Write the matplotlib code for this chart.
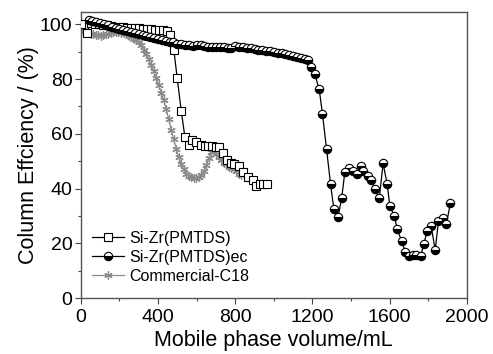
import matplotlib
matplotlib.use("Agg")
import matplotlib.pyplot as plt
from matplotlib.ticker import MultipleLocator

plt.rcParams['font.family'] = ['Liberation Sans', 'DejaVu Sans']

# Si-Zr(PMTDS)
sq_x = [0, 31, 52, 72, 93, 114, 135, 155, 176, 197, 218, 238, 259, 280, 300, 321, 342, 362,
        383, 404, 424, 445, 460, 482, 499, 520, 539, 558, 578, 599, 620, 641, 658, 680, 700,
        717, 734, 755, 776, 796, 817, 841, 865, 890, 907, 927, 945, 965]
sq_y = [100, 97, 100.5, 100.2, 100, 99.8, 99.6, 99.4, 99.2, 99.0, 98.9, 98.8, 98.7, 98.6, 98.5,
        98.4, 98.3, 98.2, 98.1, 98.0, 97.8, 97.4, 96.2, 90.5, 80.5, 68.4, 58.9, 56.0, 57.7,
        57.2, 56.0, 55.5, 55.5, 55.5, 55.3, 55.2, 53.0, 50.6, 49.4, 48.9, 48.4, 46.2, 44.3,
        43.0, 41.1, 41.8, 41.6, 41.6]

# Si-Zr(PMTDS)ec
ec_x = [40, 60, 80, 100, 120, 140, 160, 180, 200, 220, 240, 260, 280, 300, 320, 340, 360, 380,
        400, 420, 440, 460, 480, 500, 520, 540, 560, 580, 600, 620, 640, 660, 680, 700, 720,
        740, 760, 780, 800, 820, 840, 860, 880, 900, 920, 940, 960, 980, 1000, 1020, 1040,
        1060, 1080, 1100, 1120, 1140, 1160, 1178, 1195, 1212, 1235, 1252, 1273, 1294, 1311,
        1333, 1351, 1368, 1390, 1411, 1432, 1449, 1463, 1487, 1504, 1525, 1546, 1566, 1587,
        1601, 1625, 1639, 1663, 1680, 1698, 1719, 1739, 1760, 1777, 1794, 1815, 1836, 1853,
        1874, 1894, 1915]
ec_y = [101.5, 101.2, 100.8, 100.4, 100.0, 99.6, 99.2, 98.8, 98.4, 98.0, 97.6, 97.2, 96.8, 96.4,
        96.0, 95.7, 95.4, 95.0, 94.7, 94.4, 94.0, 93.7, 93.4, 93.0, 92.7, 92.5, 92.3, 92.2,
        92.3, 92.4, 92.0, 91.8, 91.9, 91.7, 91.8, 91.6, 91.5, 91.4, 92.0, 91.8, 91.6, 91.4,
        91.2, 91.0, 90.8, 90.6, 90.3, 90.1, 89.9, 89.7, 89.4, 89.1, 88.8, 88.5, 88.2, 87.8,
        87.5, 86.9, 84.4, 81.8, 76.2, 67.2, 54.4, 41.5, 32.4, 29.7, 36.4, 46.1, 47.7, 46.5,
        45.3, 48.2, 46.5, 44.5, 43.0, 39.7, 36.4, 49.2, 41.6, 33.6, 29.9, 25.1, 20.7, 17.0,
        15.3, 15.7, 15.6, 15.3, 19.7, 24.6, 26.3, 17.5, 28.3, 29.1, 27.0, 34.9]

# Commercial-C18
c18_x = [0, 13, 26, 39, 52, 65, 78, 91, 104, 117, 130, 143, 156, 169, 182, 195, 208, 221, 234,
         247, 260, 273, 286, 299, 312, 325, 338, 351, 364, 377, 390, 403, 416, 429, 442, 455,
         468, 481, 494, 507, 520, 533, 546, 559, 572, 585, 598, 611, 624, 637, 650, 663, 676,
         689, 702, 715, 728, 741, 754, 767, 780, 793, 806, 819, 832]
c18_y = [97.5, 97.8, 97.2, 96.8, 96.5, 96.3, 96.0, 96.0, 95.8, 96.0, 96.3, 96.6, 96.9, 97.1,
         97.2, 97.2, 97.0, 96.8, 96.4, 95.8, 95.2, 94.8, 94.4, 93.5, 92.3, 90.8, 89.0, 87.2,
         85.0, 83.0, 80.5, 78.0, 75.0, 72.5, 69.0, 65.5, 61.5, 58.0, 54.5, 51.5, 49.0, 47.0,
         45.5, 44.6, 44.2, 44.0, 43.9, 44.3, 44.8, 46.3, 48.5, 51.0, 53.2, 54.3, 52.8, 51.5,
         50.5, 49.5, 48.8, 48.0, 47.5, 47.0, 46.3, 45.5, 45.0]

x_ticks = [0, 400, 800, 1200, 1600, 2000]
y_ticks = [0, 20, 40, 60, 80, 100]

fig = plt.figure(figsize=(4.93, 3.54), dpi=100)
ax = fig.add_axes([0.164, 0.158, 0.783, 0.808])

ax.plot(c18_x, c18_y, color='#8a8a8a', lw=0.9, marker=(6, 2, 0), ms=6, mew=0.9,
        label='Commercial-C18', zorder=2)
ax.plot(sq_x, sq_y, color='black', lw=0.9, marker='s', ms=6, mfc='white', mec='black',
        mew=0.8, label='Si-Zr(PMTDS)', zorder=3)
ax.plot(ec_x, ec_y, color='black', lw=0.9, marker='o', ms=6, fillstyle='bottom',
        mfc='black', mfcalt='white', mec='black', mew=0.8, label='Si-Zr(PMTDS)ec', zorder=4)

ax.set_xlim(0, 2000)
ax.set_ylim(0, 104.5)
ax.set_xticks(x_ticks)
ax.set_yticks(y_ticks)
ax.xaxis.set_minor_locator(MultipleLocator(200))
ax.yaxis.set_minor_locator(MultipleLocator(10))
ax.tick_params(which='major', direction='out', length=4, width=0.8, labelsize=14,
               top=False, right=False, colors='#444444', labelcolor='black', pad=2)
ax.tick_params(axis='x', which='major', pad=4)
ax.tick_params(which='minor', direction='out', length=2.5, width=0.8, top=False, right=False,
               colors='#444444')
for s in ax.spines.values():
    s.set_color('#555555')
    s.set_linewidth(1.0)

ax.set_xlabel('Mobile phase volume/mL', fontsize=15.5, labelpad=3)
ax.set_ylabel('Column Effciency / (%)', fontsize=15.5, labelpad=1)

h, l = ax.get_legend_handles_labels()
order = [1, 2, 0]
ax.legend([h[i] for i in order], [l[i] for i in order], loc='lower left',
          bbox_to_anchor=(0.0, 0.01), frameon=False, fontsize=11.5, handlelength=2.0,
          handletextpad=0.3, labelspacing=0.25, borderaxespad=0.3)

fig.savefig('out.png', dpi=100)
